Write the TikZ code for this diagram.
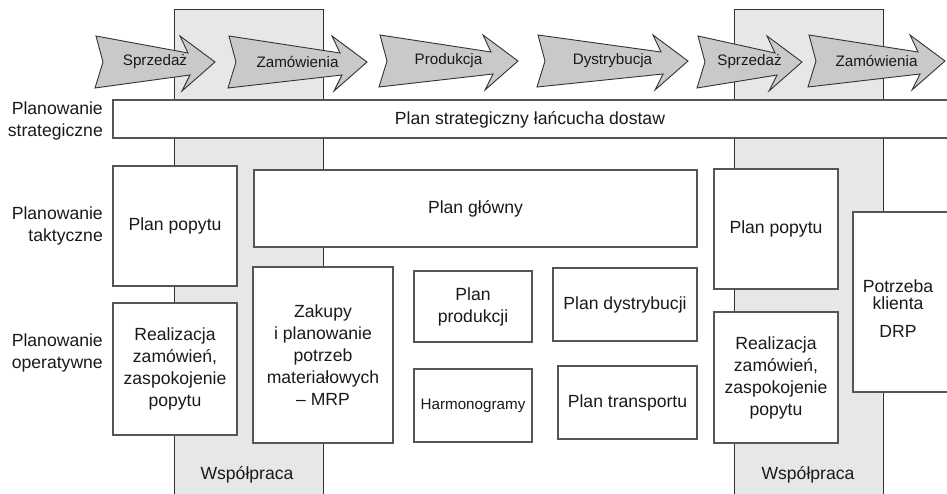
\documentclass[tikz,border=0pt]{standalone}
\usepackage{fontspec}
\setmainfont{Liberation Sans}

\definecolor{colfill}{HTML}{E6E7E8}
\definecolor{arrfill}{HTML}{C9C9CA}
\definecolor{coledge}{HTML}{333333}
\definecolor{boxedge}{HTML}{555555}
\definecolor{ink}{HTML}{1A1A1A}

\newcommand\mainsize{\fontsize{17.6bp}{22bp}\selectfont}
\newcommand\smallsize{\fontsize{15.2bp}{18bp}\selectfont}

% process step chevron: name, left x, tip x, middle y, label
\newcommand\flowarrow[5]{%
  \draw[flowshape] (#2+1,#4-26) -- (#3-27,#4-9) -- (#3-35,#4-26) -- (#3,#4)
    -- (#3-33,#4+29) -- (#3-25,#4+13) -- (#2,#4+26) -- (#2+8,#4) -- cycle;
  \node[flowlabel] (#1) at ({(#2+#3)/2},#4) {#5};}

\tikzset{
  column/.style={fill=colfill, draw=coledge, line width=1bp},
  flowshape/.style={fill=arrfill, draw=coledge, line width=0.9bp, line join=miter},
  flowlabel/.style={font=\smallsize, text=ink, inner sep=0},
  box/.style={draw=boxedge, fill=white, line width=1.3bp, inner sep=0,
              align=center, font=\mainsize, text=ink},
  rowlabel/.style={anchor=east, align=right, font=\mainsize, text=ink, inner sep=0},
  plain/.style={align=center, font=\mainsize, text=ink, inner sep=0},
}

\begin{document}
\begin{tikzpicture}[x=1bp, y=-1bp]
\useasboundingbox (0,0) rectangle (947,494);
\fill[white] (0,0) rectangle (947,494);

% collaboration columns
\filldraw[column] (174,10) rectangle (323,520);
\filldraw[column] (734,10) rectangle (883,520);

% process chain
\flowarrow{sales1}{95}{215}{62}{Sprzedaż}
\flowarrow{orders1}{228}{367}{62}{Zamówienia}
\flowarrow{production}{379}{518}{61}{Produkcja}
\flowarrow{distribution}{537}{688}{61}{Dystrybucja}
\flowarrow{sales2}{697}{802}{62}{Sprzedaż}
\flowarrow{orders2}{808}{945}{61}{Zamówienia}

% planning levels
\node[rowlabel] (lvlstrat) at (103,121) {Planowanie\\strategiczne};
\node[rowlabel] (lvltact) at (103,226) {Planowanie\\taktyczne};
\node[rowlabel] (lvlop) at (103,352.5) {Planowanie\\operatywne};

% strategic plan bar
\node[box, minimum width=860bp, minimum height=38bp] (stratbar) at (543,119) {};
\node[plain] (strattext) at (530,120) {Plan strategiczny łańcucha dostaw};

% left side
\node[box, minimum width=124bp, minimum height=120bp] (demandL) at (175,226) {Plan popytu};
\node[box, minimum width=124bp, minimum height=132bp] (fulfilL) at (175,369)
  {Realizacja\\zamówień,\\zaspokojenie\\popytu};

% middle
\node[box, minimum width=443bp, minimum height=77bp] (master) at (475.5,208.5) {Plan główny};
\node[box, minimum width=140bp, minimum height=176bp] (mrp) at (323,355)
  {Zakupy\\i planowanie\\potrzeb\\materiałowych\\– MRP};
\node[box, minimum width=118bp, minimum height=71bp] (prodplan) at (473,306.5) {Plan\\produkcji};
\node[box, minimum width=144bp, minimum height=73bp] (distplan) at (625,304.5) {Plan dystrybucji};
\node[box, minimum width=118bp, minimum height=73bp, font=\smallsize] (sched) at (473,405.5) {Harmonogramy};
\node[box, minimum width=139bp, minimum height=73bp] (transp) at (627.5,402.5) {Plan transportu};

% right side
\node[box, minimum width=124bp, minimum height=120bp] (demandR) at (776,229) {Plan popytu};
\node[box, minimum width=124bp, minimum height=131bp] (fulfilR) at (776,377.5)
  {Realizacja\\zamówień,\\zaspokojenie\\popytu};
\node[box, minimum width=112bp, minimum height=180bp] (custbox) at (909,302) {};
\node[plain] (custtext) at (898,309) {Potrzeba\\[-5bp]klienta\\[6bp]DRP};

% column captions
\node[plain] (coopL) at (247,475) {Współpraca};
\node[plain] (coopR) at (808,475) {Współpraca};
\end{tikzpicture}
\end{document}
